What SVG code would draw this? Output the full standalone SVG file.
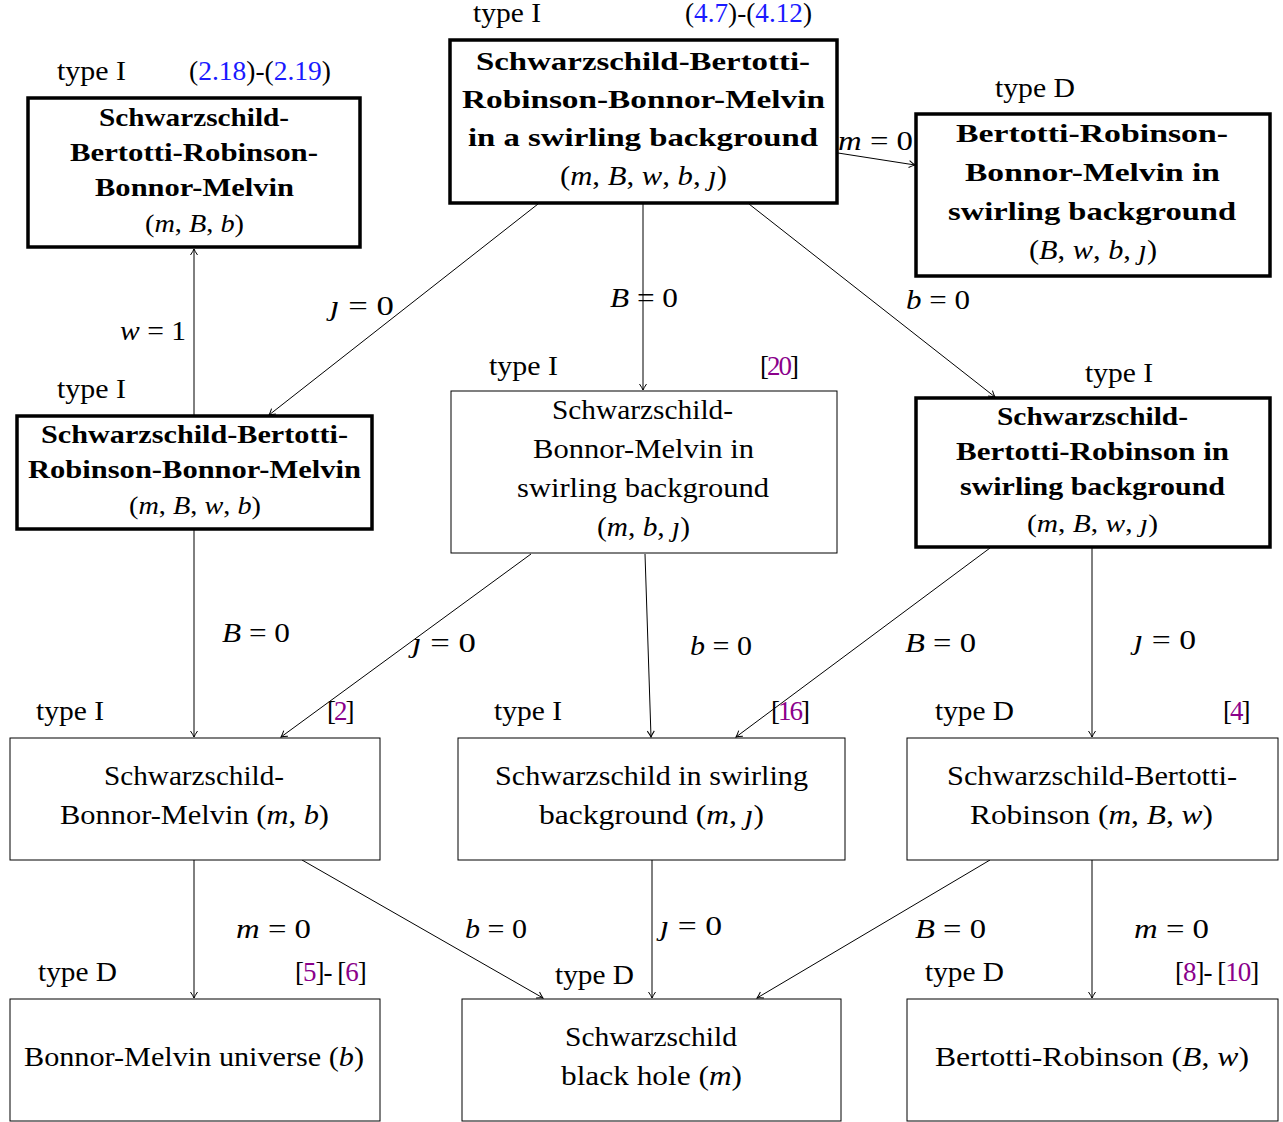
<svg xmlns="http://www.w3.org/2000/svg" width="1283" height="1122" viewBox="0 0 1283 1122">
<style>
text{font-family:"Liberation Serif","Times New Roman",serif;font-size:27px;fill:#000}
.b{font-weight:bold;font-size:26px}
.s{font-size:25px}
.i{font-style:italic}
.blue{fill:#1a1aff}
.pur{fill:#8b008b}
.c2{letter-spacing:-2px}
.c1{letter-spacing:-1px}
.thick{fill:#fff;stroke:#000;stroke-width:3.5}
.thin{fill:#fff;stroke:#000;stroke-width:1}
.e{stroke:#000;stroke-width:1;fill:none;marker-end:url(#ar)}
</style>
<defs>
<marker id="ar" viewBox="-8 -5 10 10" refX="0" refY="0" markerWidth="10" markerHeight="10" markerUnits="userSpaceOnUse" orient="auto">
<path d="M-6,-3.5 Q-2,-0.8 0,0 Q-2,0.8 -6,3.5" fill="none" stroke="#000" stroke-width="1"/>
</marker>
</defs>
<rect width="1283" height="1122" fill="#fff"/>

<g id="connectors">
<line class="e" x1="838" y1="153" x2="915" y2="165"/>
<line class="e" x1="194" y1="415" x2="194" y2="249"/>
<line class="e" x1="538" y1="204" x2="269" y2="415"/>
<line class="e" x1="643" y1="204" x2="643" y2="390"/>
<line class="e" x1="749" y1="204" x2="995" y2="397"/>
<line class="e" x1="194" y1="530" x2="194" y2="737"/>
<line class="e" x1="531" y1="554" x2="281" y2="737"/>
<line class="e" x1="645" y1="554" x2="651" y2="737"/>
<line class="e" x1="990" y1="548" x2="736" y2="737"/>
<line class="e" x1="1092" y1="548" x2="1092" y2="737"/>
<line class="e" x1="194" y1="860" x2="194" y2="998"/>
<line class="e" x1="302" y1="860" x2="543" y2="998"/>
<line class="e" x1="652" y1="860" x2="652" y2="998"/>
<line class="e" x1="990" y1="860" x2="757" y2="998"/>
<line class="e" x1="1092" y1="860" x2="1092" y2="998"/>
<text x="838" y="150" textLength="75" lengthAdjust="spacingAndGlyphs"><tspan class="i">m</tspan> = 0</text>
<text x="120" y="340" textLength="66" lengthAdjust="spacingAndGlyphs"><tspan class="i">w</tspan> = 1</text>
<text x="330" y="315" textLength="64" lengthAdjust="spacingAndGlyphs"><tspan class="i">ȷ</tspan> = 0</text>
<text x="610" y="307" textLength="68" lengthAdjust="spacingAndGlyphs"><tspan class="i">B</tspan> = 0</text>
<text x="906" y="309" textLength="64" lengthAdjust="spacingAndGlyphs"><tspan class="i">b</tspan> = 0</text>
<text x="222" y="642" textLength="68" lengthAdjust="spacingAndGlyphs"><tspan class="i">B</tspan> = 0</text>
<text x="412" y="652" textLength="64" lengthAdjust="spacingAndGlyphs"><tspan class="i">ȷ</tspan> = 0</text>
<text x="690" y="655" textLength="62" lengthAdjust="spacingAndGlyphs"><tspan class="i">b</tspan> = 0</text>
<text x="905" y="652" textLength="71" lengthAdjust="spacingAndGlyphs"><tspan class="i">B</tspan> = 0</text>
<text x="1134" y="649" textLength="62" lengthAdjust="spacingAndGlyphs"><tspan class="i">ȷ</tspan> = 0</text>
<text x="236" y="938" textLength="75" lengthAdjust="spacingAndGlyphs"><tspan class="i">m</tspan> = 0</text>
<text x="465" y="938" textLength="62" lengthAdjust="spacingAndGlyphs"><tspan class="i">b</tspan> = 0</text>
<text x="660" y="935" textLength="62" lengthAdjust="spacingAndGlyphs"><tspan class="i">ȷ</tspan> = 0</text>
<text x="915" y="938" textLength="71" lengthAdjust="spacingAndGlyphs"><tspan class="i">B</tspan> = 0</text>
<text x="1134" y="938" textLength="75" lengthAdjust="spacingAndGlyphs"><tspan class="i">m</tspan> = 0</text>
</g>

<g id="n1">
<rect class="thick" x="450" y="40" width="387" height="163"/>
<text x="473" y="22" textLength="68" lengthAdjust="spacingAndGlyphs">type I</text>
<text x="685" y="22" textLength="127" lengthAdjust="spacingAndGlyphs">(<tspan class="blue">4.7</tspan>)-(<tspan class="blue">4.12</tspan>)</text>
<text class="b" x="476" y="70" textLength="334" lengthAdjust="spacingAndGlyphs">Schwarzschild-Bertotti-</text>
<text class="b" x="462" y="108" textLength="363" lengthAdjust="spacingAndGlyphs">Robinson-Bonnor-Melvin</text>
<text class="b" x="468" y="146" textLength="350" lengthAdjust="spacingAndGlyphs">in a swirling background</text>
<text x="560" y="185" textLength="167" lengthAdjust="spacingAndGlyphs">(<tspan class="i">m</tspan>, <tspan class="i">B</tspan>, <tspan class="i">w</tspan>, <tspan class="i">b</tspan>, <tspan class="i">ȷ</tspan>)</text>
</g>

<g id="n2">
<rect class="thick" x="28" y="98" width="332" height="149"/>
<text x="57" y="80" textLength="69" lengthAdjust="spacingAndGlyphs">type I</text>
<text x="189" y="80" textLength="142" lengthAdjust="spacingAndGlyphs">(<tspan class="blue">2.18</tspan>)-(<tspan class="blue">2.19</tspan>)</text>
<text class="b s" x="99" y="126" textLength="190" lengthAdjust="spacingAndGlyphs">Schwarzschild-</text>
<text class="b s" x="70" y="161" textLength="248" lengthAdjust="spacingAndGlyphs">Bertotti-Robinson-</text>
<text class="b s" x="95" y="196" textLength="199" lengthAdjust="spacingAndGlyphs">Bonnor-Melvin</text>
<text class="s" x="145" y="232" textLength="99" lengthAdjust="spacingAndGlyphs">(<tspan class="i">m</tspan>, <tspan class="i">B</tspan>, <tspan class="i">b</tspan>)</text>
</g>

<g id="n3">
<rect class="thick" x="916" y="114" width="354" height="162"/>
<text x="995" y="97" textLength="80" lengthAdjust="spacingAndGlyphs">type D</text>
<text class="b" x="956" y="142" textLength="272" lengthAdjust="spacingAndGlyphs">Bertotti-Robinson-</text>
<text class="b" x="965" y="181" textLength="255" lengthAdjust="spacingAndGlyphs">Bonnor-Melvin in</text>
<text class="b" x="948" y="220" textLength="288" lengthAdjust="spacingAndGlyphs">swirling background</text>
<text x="1029" y="259" textLength="128" lengthAdjust="spacingAndGlyphs">(<tspan class="i">B</tspan>, <tspan class="i">w</tspan>, <tspan class="i">b</tspan>, <tspan class="i">ȷ</tspan>)</text>
</g>

<g id="n4">
<rect class="thick" x="17" y="416" width="355" height="113"/>
<text x="57" y="398" textLength="69" lengthAdjust="spacingAndGlyphs">type I</text>
<text class="b s" x="41" y="443" textLength="307" lengthAdjust="spacingAndGlyphs">Schwarzschild-Bertotti-</text>
<text class="b s" x="28" y="478" textLength="333" lengthAdjust="spacingAndGlyphs">Robinson-Bonnor-Melvin</text>
<text class="s" x="129" y="514" textLength="132" lengthAdjust="spacingAndGlyphs">(<tspan class="i">m</tspan>, <tspan class="i">B</tspan>, <tspan class="i">w</tspan>, <tspan class="i">b</tspan>)</text>
</g>

<g id="n5">
<rect class="thin" x="451" y="391" width="386" height="162"/>
<text x="489" y="375" textLength="69" lengthAdjust="spacingAndGlyphs">type I</text>
<text class="c2" x="760" y="375">[<tspan class="pur">20</tspan>]</text>
<text x="552" y="419" textLength="181" lengthAdjust="spacingAndGlyphs">Schwarzschild-</text>
<text x="533" y="458" textLength="221" lengthAdjust="spacingAndGlyphs">Bonnor-Melvin in</text>
<text x="517" y="497" textLength="252" lengthAdjust="spacingAndGlyphs">swirling background</text>
<text x="597" y="536" textLength="93" lengthAdjust="spacingAndGlyphs">(<tspan class="i">m</tspan>, <tspan class="i">b</tspan>, <tspan class="i">ȷ</tspan>)</text>
</g>

<g id="n6">
<rect class="thick" x="916" y="398" width="354" height="149"/>
<text x="1085" y="382" textLength="68" lengthAdjust="spacingAndGlyphs">type I</text>
<text class="b s" x="997" y="425" textLength="191" lengthAdjust="spacingAndGlyphs">Schwarzschild-</text>
<text class="b s" x="956" y="460" textLength="273" lengthAdjust="spacingAndGlyphs">Bertotti-Robinson in</text>
<text class="b s" x="960" y="495" textLength="265" lengthAdjust="spacingAndGlyphs">swirling background</text>
<text class="s" x="1027" y="532" textLength="131" lengthAdjust="spacingAndGlyphs">(<tspan class="i">m</tspan>, <tspan class="i">B</tspan>, <tspan class="i">w</tspan>, <tspan class="i">ȷ</tspan>)</text>
</g>

<g id="n7">
<rect class="thin" x="10" y="738" width="370" height="122"/>
<text x="36" y="720" textLength="68" lengthAdjust="spacingAndGlyphs">type I</text>
<text class="c2" x="327" y="720">[<tspan class="pur">2</tspan>]</text>
<text x="104" y="785" textLength="180" lengthAdjust="spacingAndGlyphs">Schwarzschild-</text>
<text x="60" y="824" textLength="269" lengthAdjust="spacingAndGlyphs">Bonnor-Melvin (<tspan class="i">m</tspan>, <tspan class="i">b</tspan>)</text>
</g>

<g id="n8">
<rect class="thin" x="458" y="738" width="387" height="122"/>
<text x="494" y="720" textLength="68" lengthAdjust="spacingAndGlyphs">type I</text>
<text class="c2" x="771" y="720">[<tspan class="pur">16</tspan>]</text>
<text x="495" y="785" textLength="313" lengthAdjust="spacingAndGlyphs">Schwarzschild in swirling</text>
<text x="539" y="824" textLength="225" lengthAdjust="spacingAndGlyphs">background (<tspan class="i">m</tspan>, <tspan class="i">ȷ</tspan>)</text>
</g>

<g id="n9">
<rect class="thin" x="907" y="738" width="371" height="122"/>
<text x="935" y="720" textLength="79" lengthAdjust="spacingAndGlyphs">type D</text>
<text class="c2" x="1223" y="720">[<tspan class="pur">4</tspan>]</text>
<text x="947" y="785" textLength="290" lengthAdjust="spacingAndGlyphs">Schwarzschild-Bertotti-</text>
<text x="970" y="824" textLength="243" lengthAdjust="spacingAndGlyphs">Robinson (<tspan class="i">m</tspan>, <tspan class="i">B</tspan>, <tspan class="i">w</tspan>)</text>
</g>

<g id="n10">
<rect class="thin" x="10" y="999" width="370" height="122"/>
<text x="38" y="981" textLength="79" lengthAdjust="spacingAndGlyphs">type D</text>
<text class="c1" x="295" y="981">[<tspan class="pur">5</tspan>]- [<tspan class="pur">6</tspan>]</text>
<text x="24" y="1066" textLength="340" lengthAdjust="spacingAndGlyphs">Bonnor-Melvin universe (<tspan class="i">b</tspan>)</text>
</g>

<g id="n11">
<rect class="thin" x="462" y="999" width="379" height="122"/>
<text x="555" y="984" textLength="79" lengthAdjust="spacingAndGlyphs">type D</text>
<text x="565" y="1046" textLength="172" lengthAdjust="spacingAndGlyphs">Schwarzschild</text>
<text x="561" y="1085" textLength="181" lengthAdjust="spacingAndGlyphs">black hole (<tspan class="i">m</tspan>)</text>
</g>

<g id="n12">
<rect class="thin" x="907" y="999" width="371" height="122"/>
<text x="925" y="981" textLength="79" lengthAdjust="spacingAndGlyphs">type D</text>
<text class="c1" x="1175" y="981">[<tspan class="pur">8</tspan>]- [<tspan class="pur">10</tspan>]</text>
<text x="935" y="1066" textLength="314" lengthAdjust="spacingAndGlyphs">Bertotti-Robinson (<tspan class="i">B</tspan>, <tspan class="i">w</tspan>)</text>
</g>
</svg>
